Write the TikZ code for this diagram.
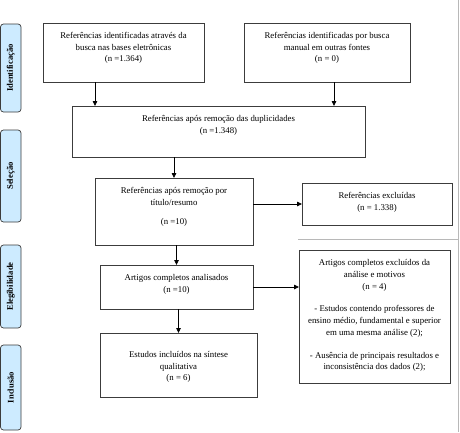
\documentclass[tikz,border=0pt]{standalone}
\usepackage{fontspec}
\setmainfont{Liberation Serif}
\usetikzlibrary{arrows.meta}
\definecolor{sidefill}{HTML}{CDEBFF}
\definecolor{boxline}{HTML}{3C3C3C}
\definecolor{edgegray}{HTML}{B8B8B8}
\begin{document}
\begin{tikzpicture}[x=1pt,y=-1pt,
  box/.style={draw=boxline, line width=0.8pt, inner sep=0pt, outer sep=0pt},
  txt/.style={anchor=north, align=center, inner sep=0pt, font=\fontsize{8.8}{11.7}\selectfont},
  side/.style={draw=boxline, line width=0.7pt, fill=sidefill, rounded corners=3pt, inner sep=0pt, rotate=90, font=\bfseries\fontsize{8.6}{10}\selectfont},
  arr/.style={-{Triangle[length=5pt,width=4.5pt]}, line width=0.8pt, black}]
\useasboundingbox (0,0) rectangle (460,432);
% page edge artifacts
\draw[edgegray, line width=1.2pt] (458.5,0) -- (458.5,432);
\draw[edgegray, line width=0.6pt] (298,239) -- (458,239);
% side labels
\node[side, minimum width=88pt, minimum height=20.5pt] (s1) at (10.75,68) {Identificação};
\node[side, minimum width=92pt, minimum height=20.5pt] (s2) at (10.75,176) {Seleção};
\node[side, minimum width=83pt, minimum height=20.5pt] (s3) at (10.75,286.5) {Elegibilidade};
\node[side, minimum width=85pt, minimum height=20.5pt] (s4) at (10.75,387.5) {Inclusão};
% boxes
\node[box, minimum width=161pt, minimum height=59pt] (A) at (123.5,52.5) {};
\node[box, minimum width=166pt, minimum height=59pt] (B) at (327,52.5) {};
\node[box, minimum width=293pt, minimum height=51pt] (C) at (218.5,131.5) {};
\node[box, minimum width=158pt, minimum height=67pt] (D) at (174,211.5) {};
\node[box, minimum width=150pt, minimum height=42pt] (E) at (377,204) {};
\node[box, minimum width=153pt, minimum height=44pt] (F) at (176.5,287) {};
\node[box, minimum width=157pt, minimum height=64pt] (G) at (178.5,365) {};
\node[box, minimum width=151pt, minimum height=133pt] (H) at (374.5,316.5) {};
% texts
\node[txt] (tA) at ([yshift=-9pt]A.north) {Referências identificadas através da\\busca nas bases eletrônicas\\(n =1.364)};
\node[txt] (tB) at ([yshift=-9pt]B.north) {Referências identificadas por busca\\manual em outras fontes\\(n = 0)};
\node[txt] (tC) at ([yshift=-9pt]C.north) {Referências após remoção das duplicidades\\(n =1.348)};
\node[txt] (tD) at ([yshift=-9.5pt]D.north) {Referências após remoção por\\título/resumo\\[7pt](n =10)};
\node[txt] (tE) at ([yshift=-9pt]E.north) {Referências excluídas\\(n = 1.338)};
\node[txt] (tF) at ([yshift=-9pt]F.north) {Artigos completos analisados\\(n =10)};
\node[txt] (tG) at ([yshift=-18pt]G.north) {Estudos incluídos na síntese\\qualitativa\\(n = 6)};
\node[txt] (tH) at ([yshift=-9.5pt]H.north) {Artigos completos excluídos da\\análise e motivos\\(n = 4)\\[11pt]- Estudos contendo professores de\\ensino médio, fundamental e superior\\em uma mesma análise (2);\\[11pt]- Ausência de principais resultados e\\inconsistência dos dados (2);};
% connectors
\draw[arr] ([xshift=-28.5pt]A.south) -- ([xshift=-28.5pt]A.south |- C.north);
\draw[arr] ([xshift=7pt]B.south) -- ([xshift=7pt]B.south |- C.north);
\draw[arr] (D.north |- C.south) -- (D.north);
\draw[arr] (D.east |- E.west) -- (E.west);
\draw[arr] (F.north |- D.south) -- (F.north);
\draw[arr] (F.east) -- (F.east -| H.west);
\draw[arr] (G.north |- F.south) -- (G.north);
\end{tikzpicture}
\end{document}
